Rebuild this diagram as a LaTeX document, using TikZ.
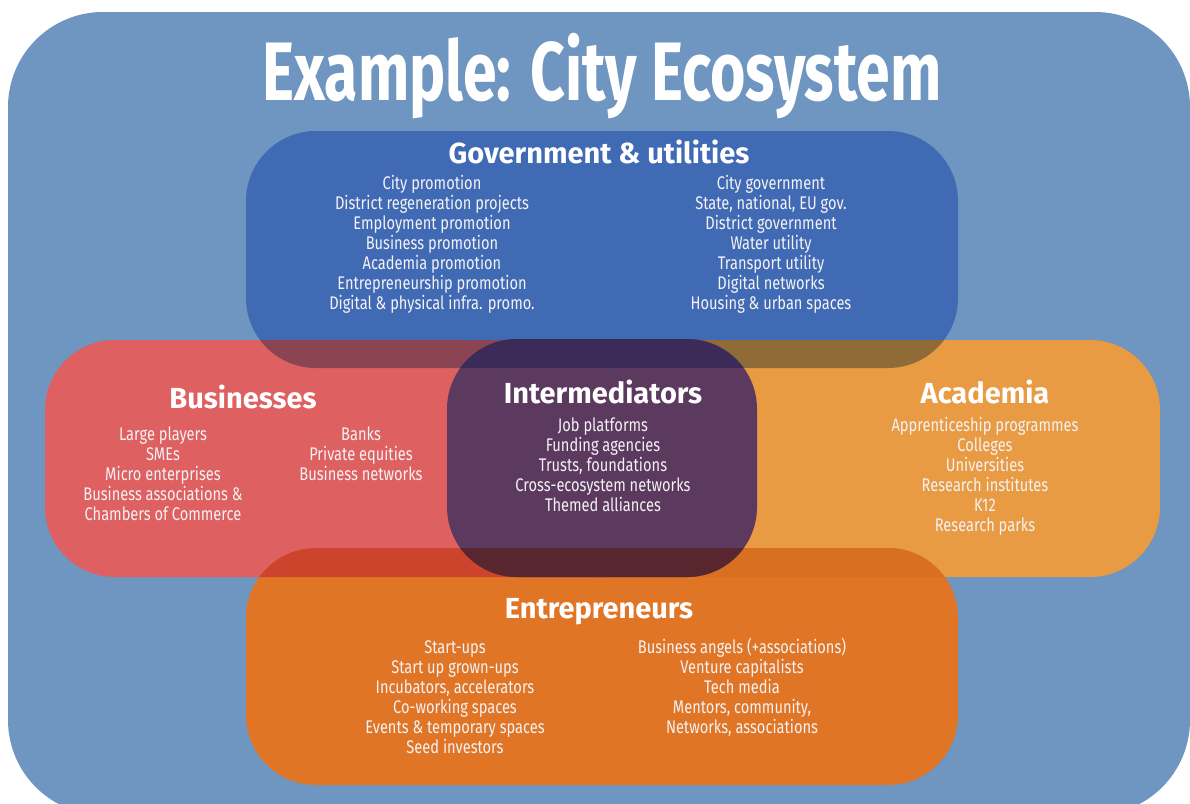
\documentclass[tikz,border=0pt]{standalone}
\usepackage{fontspec}
\setmainfont{Fira Sans}
\newfontfamily\bodyfont[FakeStretch=0.80]{Fira Sans}
\newfontfamily\titlefont[FakeStretch=0.732]{Fira Sans}
\definecolor{bgblue}{HTML}{6F95C1}
\definecolor{govc}{HTML}{416AB4}
\definecolor{busc}{HTML}{DE6060}
\definecolor{acadc}{HTML}{E89B43}
\definecolor{entc}{HTML}{E07526}
\definecolor{govbus}{HTML}{8A4452}
\definecolor{govacad}{HTML}{8F6B37}
\definecolor{entbus}{HTML}{CC442C}
\definecolor{entacad}{HTML}{D96F20}
\definecolor{interc}{HTML}{5C3A60}
\definecolor{intergov}{HTML}{3C2B58}
\definecolor{interent}{HTML}{58262F}
\definecolor{textwhite}{HTML}{F4F2F4}
\tikzset{
  region/.style={rounded corners=70pt},
  bodytext/.style={font=\bodyfont\fontsize{18.3}{20}\selectfont, text=textwhite, inner sep=0pt, anchor=base},
  headtext/.style={font=\bfseries\fontsize{29}{31}\selectfont, text=white, inner sep=0pt, anchor=base},
  titletext/.style={font=\titlefont\bfseries\fontsize{83}{90}\selectfont, text=white, inner sep=0pt, anchor=base},
}
\newcommand{\txtcol}[4]{%
  \foreach \t [count=\i] in {#4} {
    \node[bodytext] (#3-\i) at (#1, {#2+(\i-1)*20}) {\t};
  }%
}
\begin{document}
\begin{tikzpicture}[x=1pt,y=-1pt]
\useasboundingbox (0,0) rectangle (1190,803);
\clip (0,0) rectangle (1190,803);
% outer background
\fill[bgblue, rounded corners=95pt] (8,12) rectangle (1190,815);
% main regions
\fill[govc, region] (246,131) rectangle (958,368);
\fill[busc, region] (45,340) rectangle (680,577);
\fill[acadc, region] (525,340) rectangle (1160,577);
\fill[entc, region] (246,548) rectangle (958,785);
% overlaps with government
\begin{scope}
  \clip[region] (246,131) rectangle (958,368);
  \fill[govbus, region] (45,340) rectangle (680,577);
  \fill[govacad, region] (525,340) rectangle (1160,577);
\end{scope}
% overlaps with entrepreneurs
\begin{scope}
  \clip[region] (246,548) rectangle (958,785);
  \fill[entbus, region] (45,340) rectangle (680,577);
  \fill[entacad, region] (525,340) rectangle (1160,577);
\end{scope}
% intermediators
\fill[interc, region] (447,339) rectangle (757,577);
\begin{scope}
  \clip[region] (447,339) rectangle (757,577);
  \fill[intergov, region] (246,131) rectangle (958,368);
  \fill[interent, region] (246,548) rectangle (958,785);
\end{scope}
% title
\node[titletext] (title) at (602,100) {Example: City Ecosystem};
% government
\node[headtext] (govhead) at (599,163) {Government \& utilities};
\txtcol{432}{189}{govL}{City promotion, District regeneration projects, Employment promotion, Business promotion, Academia promotion, Entrepreneurship promotion, Digital \& physical infra. promo.}
\txtcol{771}{189}{govR}{City government, {State, national, EU gov.}, District government, Water utility, Transport utility, Digital networks, Housing \& urban spaces}
% businesses
\node[headtext] (bushead) at (243,408) {Businesses};
\txtcol{163}{440}{busL}{Large players, SMEs, Micro enterprises, Business associations \&, Chambers of Commerce}
\txtcol{361}{440}{busR}{Banks, Private equities, Business networks}
% intermediators
\node[headtext] (interhead) at (603,403) {Intermediators};
\txtcol{603}{431}{inter}{Job platforms, Funding agencies, {Trusts, foundations}, Cross-ecosystem networks, Themed alliances}
% academia
\node[headtext] (acadhead) at (985,403) {Academia};
\txtcol{985}{431}{acad}{Apprenticeship programmes, Colleges, Universities, Research institutes, K12, Research parks}
% entrepreneurs
\node[headtext] (enthead) at (599,618) {Entrepreneurs};
\txtcol{455}{653}{entL}{Start-ups, Start up grown-ups, {Incubators, accelerators}, Co-working spaces, Events \& temporary spaces, Seed investors}
\txtcol{742}{653}{entR}{Business angels (+associations), Venture capitalists, Tech media, {Mentors, community,}, {Networks, associations}}
\end{tikzpicture}
\end{document}
